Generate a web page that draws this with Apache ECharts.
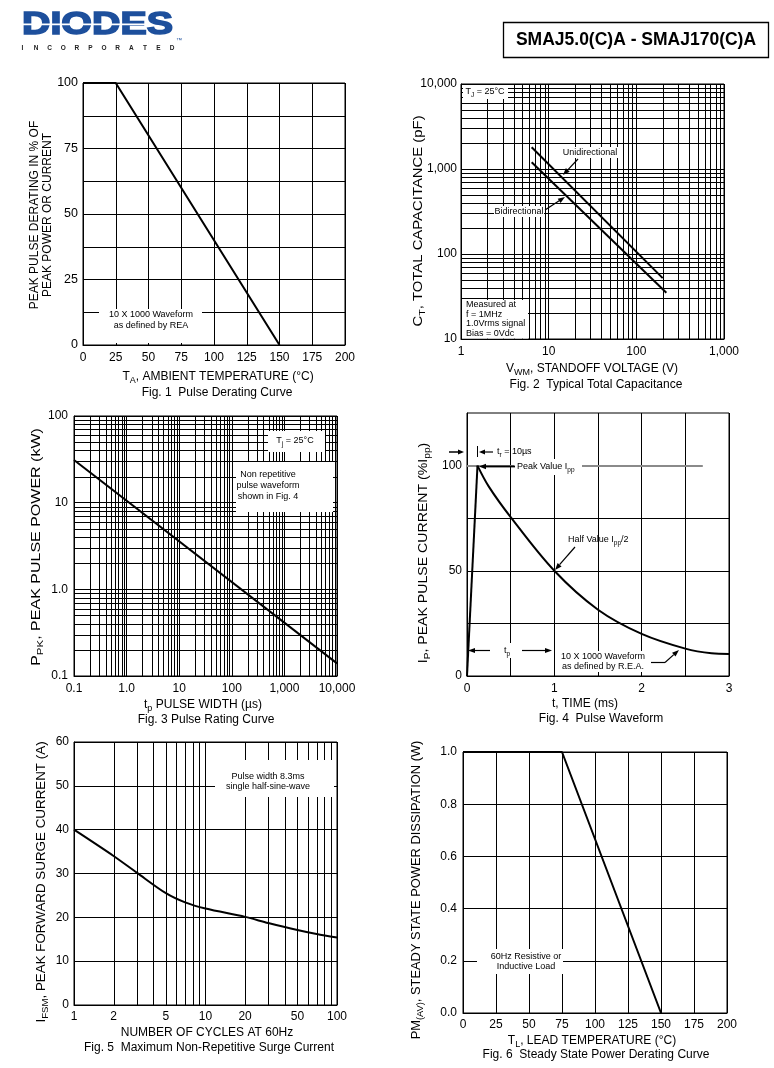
<!DOCTYPE html>
<html><head><meta charset="utf-8">
<script src="https://cdn.jsdelivr.net/npm/echarts@6/dist/echarts.min.js"></script>
<style>html,body{margin:0;padding:0;background:#fff}#c{width:774px;height:1068px}</style>
</head><body><div id="c"></div>
<script>
// ---------------- data ----------------
const fig1Temperature = [0, 25, 150];
const fig1Derating = [100, 100, 0];

const fig2VoltageUni = [6.4, 200];
const fig2CapUni = [1800, 52];
const fig2VoltageBi = [6.4, 220];
const fig2CapBi = [1200, 35];

const fig3PulseWidth = [0.1, 10000];
const fig3PeakPower = [31, 0.14];

const fig4RiseTime = [0, 0.12];
const fig4RiseCurrent = [0, 100];
const fig4DecayTime = [0.12, 0.25, 0.5, 1, 1.5, 2, 2.5, 2.8, 3];
const fig4DecayCurrent = [100, 90, 75.5, 50, 31.5, 20, 13, 10.8, 10.5];

const fig5Cycles = [1, 2, 3, 5, 7, 10, 20, 30, 50, 70, 100];
const fig5Surge = [40, 34, 30.2, 25.5, 23.4, 22, 20.1, 18.7, 17.1, 16.2, 15.4];

const fig6Temperature = [0, 75, 150];
const fig6Power = [1, 1, 0];

// tick labels
const fig2XTicks = ['1', '10', '100', '1,000'];
const fig2YTicks = ['10', '100', '1,000', '10,000'];
const fig3XTicks = ['0.1', '1.0', '10', '100', '1,000', '10,000'];
const fig3YTicks = ['0.1', '1.0', '10', '100'];
const fig5XTickValues = [1, 2, 5, 10, 20, 50, 100];
const fig5XTicks = ['1', '2', '5', '10', '20', '50', '100'];

// ---------------- helpers ----------------
const FONT = '"Liberation Sans", Arial, Helvetica, sans-serif';
const BLACK = '#000';
const pairs = (xs, ys) => xs.map((x, i) => [x, ys[i]]);
const logMinor = (d0, d1) => {
  const out = [];
  for (let d = d0; d <= d1; d++) for (let k = 2; k <= 9; k++) out.push(+(k * Math.pow(10, d)).toPrecision(6));
  return out;
};

function axis(gi, type, o) {
  const a = {
    gridIndex: gi, type: type,
    axisLine: { show: true, onZero: false, lineStyle: { color: BLACK, width: 1 } },
    axisTick: { show: false },
    splitLine: { show: o.split !== false, lineStyle: { color: BLACK, width: 1 } },
    axisLabel: { show: o.labels !== false, color: BLACK, fontSize: o.fs || 12, fontFamily: FONT, margin: o.margin, formatter: o.fmt, hideOverlap: false, showMinLabel: true, showMaxLabel: true },
    min: o.min, max: o.max
  };
  if (type === 'log') a.logBase = 10;
  if (o.interval) a.interval = o.interval;
  return a;
}
const logFmt = (labels, minExp) => v => labels[Math.round(Math.log10(v)) - minExp] || '';

function lineSeries(gi, data, extra) {
  return Object.assign({
    type: 'line', xAxisIndex: gi, yAxisIndex: gi, data: data,
    showSymbol: false, symbol: 'none', silent: true, animation: false, z: 5,
    lineStyle: { color: BLACK, width: 2 }
  }, extra || {});
}

function gridSeries(gi, vLines, hLines, xRef, yRef, labelVals, labelTxt) {
  const data = [];
  vLines.forEach(v => data.push([v, yRef, 0, -1]));
  hLines.forEach(v => data.push([xRef, v, 1, -1]));
  (labelVals || []).forEach((v, i) => data.push([v, yRef, 2, i]));
  return {
    type: 'custom', xAxisIndex: gi, yAxisIndex: gi, z: 1, silent: true, clip: false, animation: false,
    dimensions: ['x', 'y', 'kind', 'idx'], encode: { x: 0, y: 1 }, data: data,
    renderItem: function (params, api) {
      const cs = params.coordSys;
      const p = api.coord([api.value(0), api.value(1)]);
      const kind = api.value(2);
      if (kind === 0) {
        const x = Math.round(p[0]) + 0.5;
        return { type: 'line', shape: { x1: x, y1: cs.y, x2: x, y2: cs.y + cs.height }, style: { stroke: BLACK, lineWidth: 1 } };
      }
      if (kind === 1) {
        const y = Math.round(p[1]) + 0.5;
        return { type: 'line', shape: { x1: cs.x, y1: y, x2: cs.x + cs.width, y2: y }, style: { stroke: BLACK, lineWidth: 1 } };
      }
      return { type: 'text', x: p[0], y: cs.y + cs.height + 6,
        style: { text: labelTxt[api.value(3)], fill: BLACK, fontSize: 12, fontFamily: FONT,
          textAlign: 'center', textVerticalAlign: 'top', align: 'center', verticalAlign: 'top' } };
    }
  };
}

// ---------------- option ----------------
const grids = [
  { left: 83, top: 83, width: 262, height: 262 },
  { left: 461, top: 84, width: 263, height: 255 },
  { left: 74, top: 416, width: 263, height: 260 },
  { left: 467, top: 413, width: 262, height: 263 },
  { left: 74, top: 742, width: 263, height: 263 },
  { left: 463, top: 752, width: 264, height: 261 }
].map(g => Object.assign(g, { show: true, borderColor: BLACK, borderWidth: 1, backgroundColor: 'transparent', containLabel: false }));

const xAxes = [
  axis(0, 'value', { min: 0, max: 200, interval: 25, margin: 7 }),
  axis(1, 'log', { min: 1, max: 1000, margin: 7, fmt: logFmt(fig2XTicks, 0) }),
  axis(2, 'log', { min: 0.1, max: 10000, margin: 7, fmt: logFmt(fig3XTicks, -1) }),
  axis(3, 'value', { min: 0, max: 3, interval: 0.5, margin: 7, fmt: v => (Math.abs(v - Math.round(v)) < 1e-6 ? String(Math.round(v)) : '') }),
  axis(4, 'log', { min: 1, max: 100, labels: false }),
  axis(5, 'value', { min: 0, max: 200, interval: 25, margin: 6 })
];
const yAxes = [
  axis(0, 'value', { min: 0, max: 100, interval: 12.5, margin: 5, fs: 12.5, fmt: v => (v % 25 === 0 ? String(v) : '') }),
  axis(1, 'log', { min: 10, max: 10000, margin: 4, fmt: logFmt(fig2YTicks, 1) }),
  axis(2, 'log', { min: 0.1, max: 100, margin: 6, fmt: logFmt(fig3YTicks, -1) }),
  axis(3, 'value', { min: 0, max: 125, interval: 25, margin: 5, split: false, fmt: v => (v === 0 || v === 50 || v === 100 ? String(v) : '') }),
  axis(4, 'value', { min: 0, max: 60, interval: 10, margin: 5 }),
  axis(5, 'value', { min: 0, max: 1, interval: 0.2, margin: 6, fmt: v => v.toFixed(1) })
];

const series = [
  gridSeries(1, logMinor(0, 2), logMinor(1, 3), 1, 10),
  gridSeries(2, logMinor(-1, 3), logMinor(-1, 1), 0.1, 0.1),
  gridSeries(3, [], [25, 50, 75], 0, 0),
  gridSeries(4, logMinor(0, 1), [], 1, 0, fig5XTickValues, fig5XTicks),
  lineSeries(0, pairs(fig1Temperature, fig1Derating)),
  lineSeries(1, pairs(fig2VoltageUni, fig2CapUni)),
  lineSeries(1, pairs(fig2VoltageBi, fig2CapBi)),
  lineSeries(2, pairs(fig3PulseWidth, fig3PeakPower)),
  lineSeries(3, pairs(fig4RiseTime, fig4RiseCurrent)),
  lineSeries(3, pairs(fig4DecayTime, fig4DecayCurrent), {
    smooth: 0.35,
    markLine: { silent: true, symbol: ['none', 'none'], animation: false, label: { show: false },
      lineStyle: { color: '#8a8a8a', width: 2, type: 'solid' },
      data: [[{ coord: [0, 100] }, { coord: [2.7, 100] }]] }
  }),
  lineSeries(4, pairs(fig5Cycles, fig5Surge), { smooth: 0.3 }),
  lineSeries(5, pairs(fig6Temperature, fig6Power))
];

// ---------------- annotations / text ----------------
function rich(sz, subSz) {
  return {
    n: { fontSize: sz, fontFamily: FONT, fill: BLACK, lineHeight: sz + 4, verticalAlign: 'middle' },
    s: { fontSize: subSz, fontFamily: FONT, fill: BLACK, lineHeight: subSz, verticalAlign: 'bottom' }
  };
}
function T(x, y, text, o) {
  o = o || {};
  const sz = o.size || 12;
  const st = {
    text: text, fill: BLACK, fontSize: sz, fontFamily: o.family || FONT, fontWeight: o.weight || 'normal',
    textAlign: o.align || 'center', align: o.align || 'center',
    textVerticalAlign: o.valign || 'middle', verticalAlign: o.valign || 'middle'
  };
  if (o.lh) st.lineHeight = o.lh;
  if (o.rich) st.rich = rich(sz, o.sub || Math.round(sz * 0.72));
  if (o.fill) st.fill = o.fill;
  if (o.stroke) { st.stroke = o.stroke; st.lineWidth = o.strokeW || 1; }
  const el = { type: 'text', x: x, y: y, z: 52, style: st };
  if (o.rot) el.rotation = o.rot;
  if (o.scaleX) el.scaleX = o.scaleX;
  return el;
}
function box(x, y, w, h) {
  return { type: 'rect', z: 50, shape: { x: x, y: y, width: w, height: h }, style: { fill: '#fff', stroke: null } };
}
function seg(x1, y1, x2, y2, w) {
  return { type: 'line', z: 53, shape: { x1: x1, y1: y1, x2: x2, y2: y2 }, style: { stroke: BLACK, lineWidth: w || 1.2 } };
}
function arrow(x1, y1, x2, y2, w, head, hw) {
  head = head || 7; hw = hw || 2.6;
  const ang = Math.atan2(y2 - y1, x2 - x1);
  const bx = x2 - head * Math.cos(ang), by = y2 - head * Math.sin(ang);
  const nx = -Math.sin(ang) * hw, ny = Math.cos(ang) * hw;
  return [seg(x1, y1, bx, by, w),
    { type: 'polygon', z: 53, shape: { points: [[x2, y2], [bx + nx, by + ny], [bx - nx, by - ny]] }, style: { fill: BLACK } }];
}
const ROT = Math.PI / 2;
const LOGO_BLUE = '#1d4f9c';

const graphics = [];
// header
graphics.push(T(22, 25.5, 'DIODES', { size: 31, weight: 'bold', align: 'left', fill: LOGO_BLUE, scaleX: 1.27, stroke: LOGO_BLUE, strokeW: 1.6 }));
graphics.push({ type: 'rect', z: 55, shape: { x: 22, y: 23.6, width: 128, height: 1.6 }, style: { fill: '#fff' } });
'INCORPORATED'.split('').forEach((ch, i) => graphics.push(T(22.5 + i * 13.6, 48, ch, { size: 6.5, weight: 'bold', fill: '#222' })));
graphics.push(T(179, 40, '™', { size: 6, fill: LOGO_BLUE }));
graphics.push({ type: 'rect', z: 50, shape: { x: 503.5, y: 22.5, width: 265, height: 35 }, style: { fill: 'none', stroke: BLACK, lineWidth: 1.3 } });
graphics.push(T(636, 40, 'SMAJ5.0(C)A - SMAJ170(C)A', { size: 17.5, weight: 'bold' }));

// Fig 1
graphics.push(T(41, 215, 'PEAK PULSE DERATING IN % OF\nPEAK POWER OR CURRENT', { rot: ROT, lh: 12.5 }));
graphics.push(T(218, 377, '{n|T}{s|A}{n|, AMBIENT TEMPERATURE (°C)}', { rich: true }));
graphics.push(T(217, 393, 'Fig. 1  Pulse Derating Curve'));
graphics.push(box(99, 309, 103, 34));
graphics.push(T(151, 320, '10 X 1000 Waveform\nas defined by REA', { size: 9, lh: 10.5 }));

// Fig 2
graphics.push(T(419, 221, '{n|C}{s|T}{n|, TOTAL CAPACITANCE (pF)}', { size: 12.5, rich: true, rot: ROT, scaleX: 1.19 }));
graphics.push(T(592, 369, '{n|V}{s|WM}{n|, STANDOFF VOLTAGE (V)}', { rich: true }));
graphics.push(T(596, 385, 'Fig. 2  Typical Total Capacitance'));
graphics.push(box(463, 85, 45, 14));
graphics.push(T(485, 92, '{n|T}{s|J}{n| = 25°C}', { size: 9, rich: true, sub: 6.5 }));
graphics.push(box(562, 147, 56, 11));
graphics.push(T(590, 153, 'Unidirectional', { size: 9 }));
graphics.push(...arrow(578, 159, 563, 175, 1.2, 7, 2.6));
graphics.push(box(494, 206, 50, 11));
graphics.push(T(519, 212, 'Bidirectional', { size: 9 }));
graphics.push(...arrow(545, 210, 565, 197, 1.2, 7, 2.6));
graphics.push(box(462, 300, 66, 38.5));
graphics.push(T(466, 319, 'Measured at\nf = 1MHz\n1.0Vrms signal\nBias = 0Vdc', { size: 9, align: 'left', lh: 9.6 }));

// Fig 3
graphics.push(T(37, 547, '{n|P}{s|PK}{n|, PEAK PULSE POWER (kW)}', { size: 12.5, rich: true, rot: ROT, scaleX: 1.28 }));
graphics.push(T(203, 705, '{n|t}{s|p}{n| PULSE WIDTH (µs)}', { rich: true }));
graphics.push(T(206, 720, 'Fig. 3 Pulse Rating Curve'));
graphics.push(box(268, 431, 57, 21));
graphics.push(T(295, 441, '{n|T}{s|j}{n| = 25°C}', { size: 9, rich: true, sub: 6.5 }));
graphics.push(box(236, 462, 97, 50));
graphics.push(T(268, 486, 'Non repetitive\npulse waveform\nshown in Fig. 4', { size: 9, lh: 11 }));

// Fig 4
graphics.push(T(424, 553, '{n|I}{s|P}{n|, PEAK PULSE CURRENT (%I}{s|pp}{n|)}', { size: 12.5, rich: true, rot: ROT, scaleX: 1.13 }));
graphics.push(T(585, 704, 't, TIME (ms)'));
graphics.push(T(601, 719, 'Fig. 4  Pulse Waveform'));
graphics.push(...arrow(449, 452, 464, 452, 1.5, 6, 2.5));
graphics.push(seg(477.5, 446, 477.5, 457, 1));
graphics.push(...arrow(493, 452, 479, 452, 1.2, 6, 2.4));
graphics.push(T(497, 452, '{n|t}{s|r}{n| = 10µs}', { size: 9, rich: true, sub: 6.5, align: 'left' }));
graphics.push(box(514, 459, 68, 16));
graphics.push(...arrow(515, 466.5, 479, 466.5, 1.8, 7, 2.8));
graphics.push(T(517, 467, '{n|Peak Value I}{s|pp}', { size: 9, rich: true, sub: 6.5, align: 'left' }));
graphics.push(T(568, 540, '{n|Half Value I}{s|pp}{n|/2}', { size: 9, rich: true, sub: 6.5, align: 'left' }));
graphics.push(...arrow(575, 547, 555, 570, 1.2, 7, 2.6));
graphics.push(box(495, 643, 26, 15));
graphics.push(...arrow(490, 650.5, 468, 650.5, 1.2, 7, 2.6));
graphics.push(...arrow(522, 650.5, 552, 650.5, 1.2, 7, 2.6));
graphics.push(T(507, 651, '{n|t}{s|p}', { size: 9, rich: true, sub: 6.5 }));
graphics.push(box(560, 651, 88, 21));
graphics.push(T(603, 662, '10 X 1000 Waveform\nas defined by R.E.A.', { size: 9, lh: 10 }));
graphics.push(seg(651, 662.5, 665, 662.5, 1.2));
graphics.push(...arrow(665, 662.5, 679, 650, 1.2, 7, 2.6));

// Fig 5
graphics.push(T(42, 882, '{n|I}{s|FSM}{n|, PEAK FORWARD SURGE CURRENT (A)}', { size: 12.5, rich: true, rot: ROT, scaleX: 1.07 }));
graphics.push(T(207, 1033, 'NUMBER OF CYCLES AT 60Hz'));
graphics.push(T(209, 1048, 'Fig. 5  Maximum Non-Repetitive Surge Current'));
graphics.push(box(215, 760, 119, 37));
graphics.push(T(268, 782, 'Pulse width 8.3ms\nsingle half-sine-wave', { size: 9, lh: 10 }));

// Fig 6
graphics.push(T(417, 890, '{n|PM}{s|(AV)}{n|, STEADY STATE POWER DISSIPATION (W)}', { size: 12.5, rich: true, rot: ROT, scaleX: 1.03 }));
graphics.push(T(592, 1041, '{n|T}{s|L}{n|, LEAD TEMPERATURE (°C)}', { rich: true }));
graphics.push(T(596, 1055, 'Fig. 6  Steady State Power Derating Curve'));
graphics.push(box(477, 949, 86, 25));
graphics.push(T(526, 962, '60Hz Resistive or\nInductive Load', { size: 9, lh: 10 }));

const option = {
  backgroundColor: '#fff',
  animation: false,
  textStyle: { fontFamily: FONT, color: BLACK },
  grid: grids,
  xAxis: xAxes,
  yAxis: yAxes,
  series: series,
  graphic: { elements: graphics }
};

const chart = echarts.init(document.getElementById('c'));
chart.setOption(option);
</script>
</body></html>
